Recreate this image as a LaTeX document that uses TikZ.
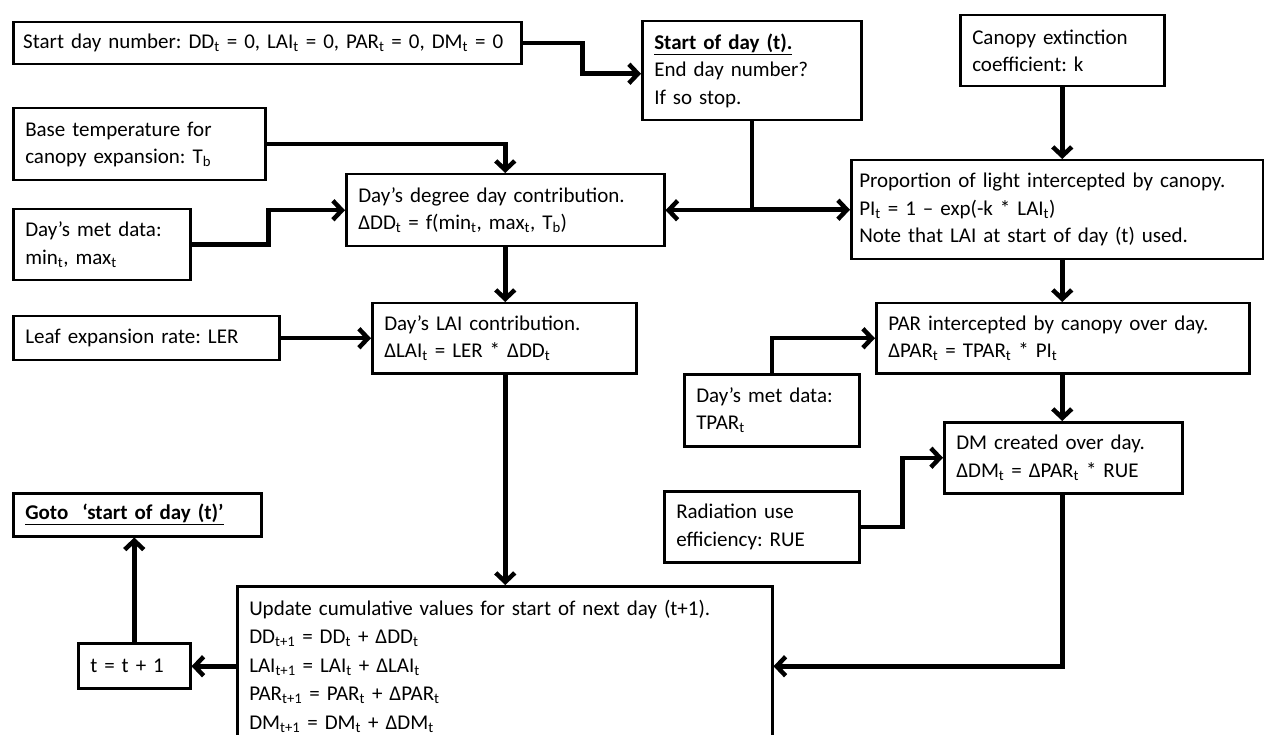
\documentclass[tikz,border=0pt]{standalone}
\usepackage{fontspec}
\setmainfont{Carlito}
\usetikzlibrary{arrows.meta}
\newcommand{\subt}{\textsubscript{t}}

\begin{document}
\begin{tikzpicture}[
    x=1pt, y=-1pt,
    font=\fontsize{21}{27.5}\selectfont\frenchspacing,
    box/.style={draw, line width=2.5pt, anchor=north west, align=left,
                inner xsep=12pt, inner ysep=5pt},
    flow/.style={line width=4.5pt, -{Straight Barb[length=9pt,width=19pt]}}
]
\useasboundingbox (0,0) rectangle (1264,735);

% inputs and model steps
\node[box, inner xsep=10pt, text width=488pt, minimum height=42pt] (start) at (12,21)
    {Start day number: DD\subt{} = 0, LAI\subt{} = 0, PAR\subt{} = 0, DM\subt{} = 0};
\node[box, text width=195pt, minimum height=99pt] (sod) at (641,20)
    {\underline{\textbf{Start of day (t).}}\\End day number?\\If so stop.};
\node[box, text width=180pt, minimum height=71pt] (canopy) at (959,14)
    {Canopy extinction\\coefficient: k};
\node[box, inner xsep=8pt, text width=396pt, minimum height=99pt] (prop) at (850,159)
    {Proportion of light intercepted by canopy.\\PI\subt{} = 1 -- exp(-k * LAI\subt)\\Note that LAI at start of day (t) used.};
\node[box, text width=228pt, minimum height=72pt] (base) at (12,107)
    {Base temperature for\\canopy expansion: T\textsubscript{b}};
\node[box, text width=153pt, minimum height=71pt] (met1) at (12,208)
    {Day’s met data:\\min\subt, max\subt};
\node[box, text width=294pt, minimum height=72pt] (degree) at (345,173)
    {Day’s degree day contribution.\\ΔDD\subt{} = f(min\subt, max\subt, T\textsubscript{b})};
\node[box, text width=242pt, minimum height=44pt] (leaf) at (12,315)
    {Leaf expansion rate: LER};
\node[box, text width=240pt, minimum height=70pt] (lai) at (371,302)
    {Day’s LAI contribution.\\ΔLAI\subt{} = LER * ΔDD\subt};
\node[box, text width=349pt, minimum height=70pt] (par) at (875,302)
    {PAR intercepted by canopy over day.\\ΔPAR\subt{} = TPAR\subt{} * PI\subt};
\node[box, text width=151pt, minimum height=72pt] (met2) at (683,373)
    {Day’s met data:\\TPAR\subt};
\node[box, text width=214pt, minimum height=71pt] (dm) at (943,421)
    {DM created over day.\\ΔDM\subt{} = ΔPAR\subt{} * RUE};
\node[box, text width=171pt, minimum height=71pt] (rad) at (663,490)
    {Radiation use\\efficiency: RUE};
\node[box, text width=511pt, minimum height=160pt, font=\fontsize{21}{28.5}\selectfont] (update) at (236,585)
    {Update cumulative values for start of next day (t+1).\\
     DD\textsubscript{t+1} = DD\subt{} + ΔDD\subt\\
     LAI\textsubscript{t+1} = LAI\subt{} + ΔLAI\subt\\
     PAR\textsubscript{t+1} = PAR\subt{} + ΔPAR\subt\\
     DM\textsubscript{t+1} = DM\subt{} + ΔDM\subt};
\node[box, text width=88pt, minimum height=45pt] (tstep) at (77,642)
    {t = t + 1};
\node[box, text width=224pt, minimum height=43pt] (goto) at (12,492)
    {\underline{\textbf{Goto\ \ ‘start of day (t)’}}};

% connectors
\draw[flow] (start.east) -- ++(60,0) |- ([yshift=-3pt]sod.west);
\draw[flow] (sod.south) |- (degree.east);
\draw[flow] (sod.south) |- (prop.west);
\draw[flow] (canopy.south) -- (canopy.south|-prop.north);
\draw[flow] (base.east) -| (degree.north);
\draw[flow] (met1.east) -- ++(77,0) |- (degree.west);
\draw[flow] (degree.south) -- (degree.south|-lai.north);
\draw[flow] (leaf.east) -- (leaf.east-|lai.west);
\draw[flow] (degree.south|-lai.south) -- (degree.south|-update.north);
\draw[flow] (canopy.south|-prop.south) -- (canopy.south|-par.north);
\draw[flow] (met2.north) |- (par.west);
\draw[flow] (canopy.south|-par.south) -- (canopy.south|-dm.north);
\draw[flow] (rad.east) -- ++(42,0) |- (dm.west);
\draw[flow] (canopy.south|-dm.south) |- (update.east);
\draw[flow] (update.west) -- (update.west-|tstep.east);
\draw[flow] (tstep.north) -- (tstep.north|-goto.south);

\end{tikzpicture}
\end{document}
